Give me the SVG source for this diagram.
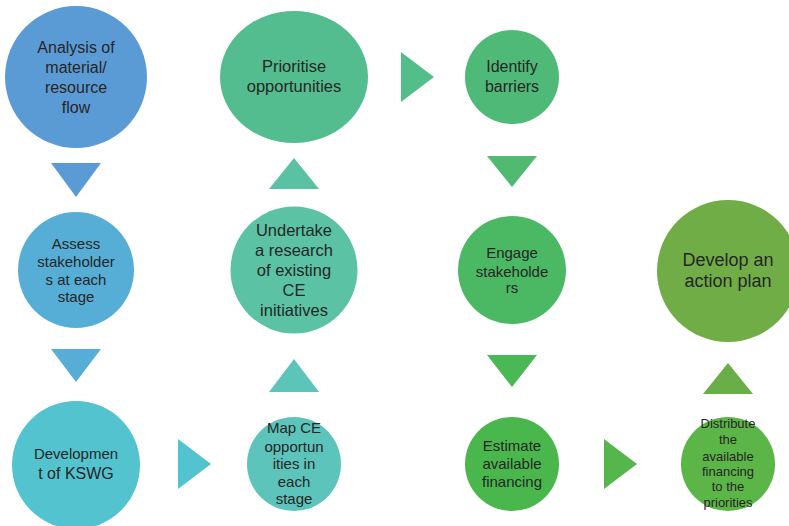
<svg xmlns="http://www.w3.org/2000/svg" width="789" height="526" viewBox="0 0 789 526">
<style>
text{font-family:"Liberation Sans",Arial,sans-serif;fill:#262626;text-anchor:middle}
.f13{font-size:13px}.f15{font-size:15px}.f16{font-size:16px}.f165{font-size:16.5px}.f18{font-size:18px}
</style>
<rect width="789" height="526" fill="#ffffff"/>
<g id="connectors">
<polygon points="51,163 101,163 76,197" fill="#5B9BD5"/>
<polygon points="51,349 101,349 76,382" fill="#56ADD5"/>
<polygon points="178,439 211,464 178,489" fill="#53C3CF"/>
<polygon points="269,392 319,392 294,359" fill="#5CC4B8"/>
<polygon points="269,189 319,189 294,158" fill="#5AC1A2"/>
<polygon points="401,52 434,77 401,102" fill="#54BE8B"/>
<polygon points="487,156 537,156 512,187" fill="#4FBA70"/>
<polygon points="487,355 537,355 512,387" fill="#4BB856"/>
<polygon points="604,439 637,464 604,489" fill="#55B64B"/>
<polygon points="703,394 753,394 728,363" fill="#6AAE47"/>
</g>
<g id="n-analysis">
<circle cx="76" cy="77" r="71" fill="#5B9BD5"/>
<text class="f16" x="76" y="53">Analysis of</text>
<text class="f16" x="76" y="73">material/</text>
<text class="f16" x="76" y="93">resource</text>
<text class="f16" x="76" y="113">flow</text>
</g>
<g id="n-assess">
<circle cx="76" cy="270" r="58" fill="#56ADD5"/>
<text class="f15" x="76" y="249">Assess</text>
<text class="f15" x="76" y="267">stakeholder</text>
<text class="f15" x="76" y="285">s at each</text>
<text class="f15" x="76" y="302">stage</text>
</g>
<g id="n-kswg">
<circle cx="76" cy="465" r="64" fill="#53C3CF"/>
<text class="f15" x="76" y="459">Developmen</text>
<text class="f16" x="76" y="479">t of KSWG</text>
</g>
<g id="n-map">
<circle cx="294" cy="464" r="47" fill="#5CC4BB"/>
<text class="f15" x="294" y="433">Map CE</text>
<text class="f15" x="294" y="452">opportun</text>
<text class="f15" x="294" y="469">ities in</text>
<text class="f15" x="294" y="487">each</text>
<text class="f15" x="294" y="504">stage</text>
</g>
<g id="n-undertake">
<circle cx="294" cy="270" r="63.5" fill="#5BC2A4"/>
<text class="f165" x="294" y="236">Undertake</text>
<text class="f165" x="294" y="256">a research</text>
<text class="f165" x="294" y="276">of existing</text>
<text class="f165" x="294" y="296">CE</text>
<text class="f165" x="294" y="316">initiatives</text>
</g>
<g id="n-prioritise">
<ellipse cx="294" cy="77" rx="74" ry="66" fill="#54BD8F"/>
<text class="f165" x="294" y="72">Prioritise</text>
<text class="f165" x="294" y="92">opportunities</text>
</g>
<g id="n-identify">
<circle cx="512" cy="77" r="47" fill="#4FBA77"/>
<text class="f16" x="512" y="72">Identify</text>
<text class="f16" x="512" y="92">barriers</text>
</g>
<g id="n-engage">
<circle cx="512" cy="270" r="54" fill="#4BB964"/>
<text class="f15" x="512" y="258">Engage</text>
<text class="f15" x="512" y="277">stakeholde</text>
<text class="f15" x="512" y="293">rs</text>
</g>
<g id="n-estimate">
<circle cx="512" cy="464" r="47" fill="#4AB74D"/>
<text class="f15" x="512" y="451">Estimate</text>
<text class="f15" x="512" y="469">available</text>
<text class="f15" x="512" y="487">financing</text>
</g>
<g id="n-distribute">
<circle cx="728" cy="464" r="47" fill="#5CB547"/>
<text class="f13" x="728" y="428">Distribute</text>
<text class="f13" x="728" y="444">the</text>
<text class="f13" x="728" y="461">available</text>
<text class="f13" x="728" y="476">financing</text>
<text class="f13" x="728" y="491">to the</text>
<text class="f13" x="728" y="507">priorities</text>
</g>
<g id="n-develop">
<circle cx="728" cy="271" r="71" fill="#70AD47"/>
<text class="f18" x="728" y="266">Develop an</text>
<text class="f18" x="728" y="287">action plan</text>
</g>
</svg>
